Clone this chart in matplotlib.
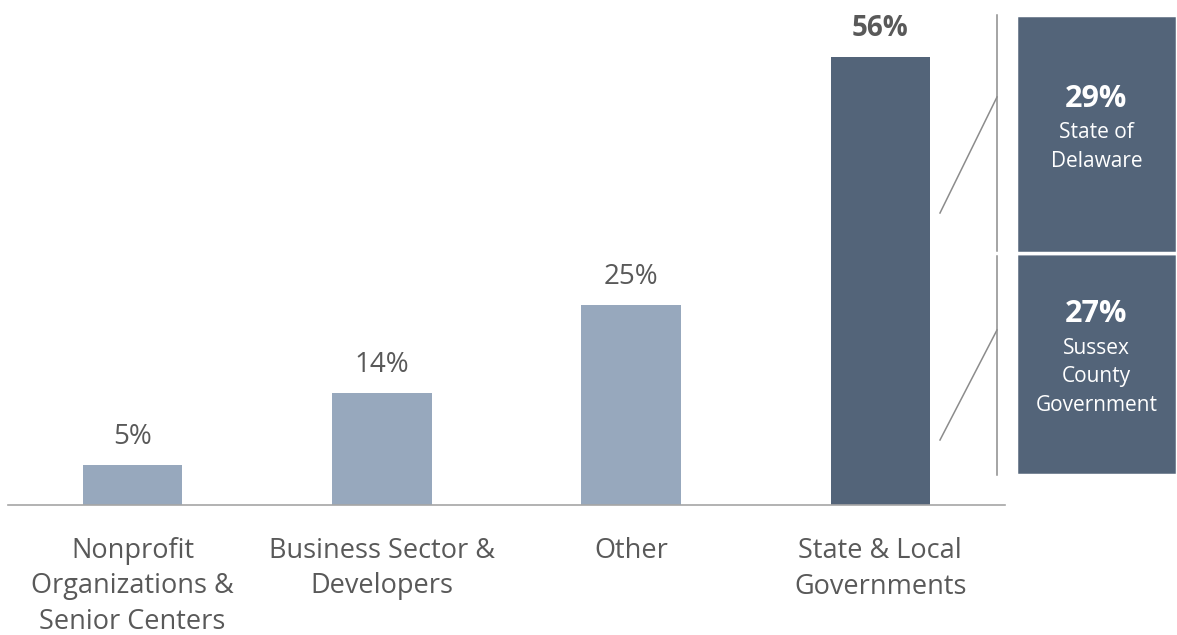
import numpy as np
import matplotlib.pyplot as plt

plt.rcParams['font.family'] = ['Open Sans', 'DejaVu Sans']

# data
categories = ['Nonprofit\nOrganizations &\nSenior Centers', 'Business Sector &\nDevelopers',
              'Other', 'State & Local\nGovernments']
shares = [5, 14, 25, 56]
sub_labels = ['Sussex\nCounty\nGovernment', 'State of\nDelaware']
sub_shares = [27, 29]

light = '#97a8bd'
dark = '#536479'
txt = '#595959'

W, H = 1177, 635
PT = 0.72  # points per pixel at dpi 100
fig = plt.figure(figsize=(W / 100, H / 100), dpi=100)

# main bar chart (pixel geometry -> figure fractions)
ax = fig.add_axes([8 / W, (H - 505) / H, (1005 - 8) / W, 480 / H])
x = np.arange(len(categories))
colors = [light, light, light, dark]
ax.bar(x, shares, width=0.4, color=colors)
ax.set_xlim(-0.5, 3.5)
ax.set_ylim(0, 60)
for s in ['top', 'right', 'left']:
    ax.spines[s].set_visible(False)
ax.spines['bottom'].set_color('#a6a6a6')
ax.spines['bottom'].set_linewidth(1.2)
ax.set_yticks([])
ax.set_xticks([])

# category labels, one line at a time
for i, lab in enumerate(categories):
    for k, line in enumerate(lab.split('\n')):
        ax.annotate(line, xy=(i, 0), xycoords=('data', 'axes fraction'),
                    xytext=(0, -(53 + 35.5 * k) * PT), textcoords='offset points',
                    ha='center', va='baseline', fontsize=19.5, color=txt)

for i, v in enumerate(shares):
    bold = i == len(shares) - 1
    ax.text(i, v + 2.6, f'{v}%', ha='center', va='baseline', fontsize=20,
            fontweight='bold' if bold else 'normal', color=txt)

# breakdown boxes
bx = fig.add_axes([1016 / W, (H - 475) / H, (1177 - 1016) / W, 460 / H])
bottom = 0
for lab, v in zip(sub_labels, sub_shares):
    bx.bar(0, v, bottom=bottom, width=1, color=dark, edgecolor='white', linewidth=2.5)
    lines = lab.split('\n')
    mid = bottom + v / 2
    pct_off = 10 + 14.5 * len(lines)  # px above box centre
    bx.annotate(f'{v}%', xy=(0, mid), xytext=(0, pct_off * PT), textcoords='offset points',
                ha='center', va='center_baseline', fontsize=22, fontweight='bold', color='white')
    for k, line in enumerate(lines):
        bx.annotate(line, xy=(0, mid), xytext=(0, (pct_off - 43 - 28.5 * k) * PT),
                    textcoords='offset points', ha='center', va='baseline',
                    fontsize=15, color='white')
    bottom += v
bx.set_xlim(-0.5, 0.5)
bx.set_ylim(0, sum(sub_shares))
bx.axis('off')

# connector lines (figure pixel coords, y from top)
def fl(xs, ys):
    fig.add_artist(plt.Line2D([p / W for p in xs], [(H - p) / H for p in ys],
                              color='#8c8c8c', linewidth=1.1))

fl([997, 997], [15, 251])
fl([997, 997], [256, 475])
fl([940, 997], [213, 97])
fl([940, 997], [440, 330])

fig.savefig('out.png', dpi=100, facecolor='white')
